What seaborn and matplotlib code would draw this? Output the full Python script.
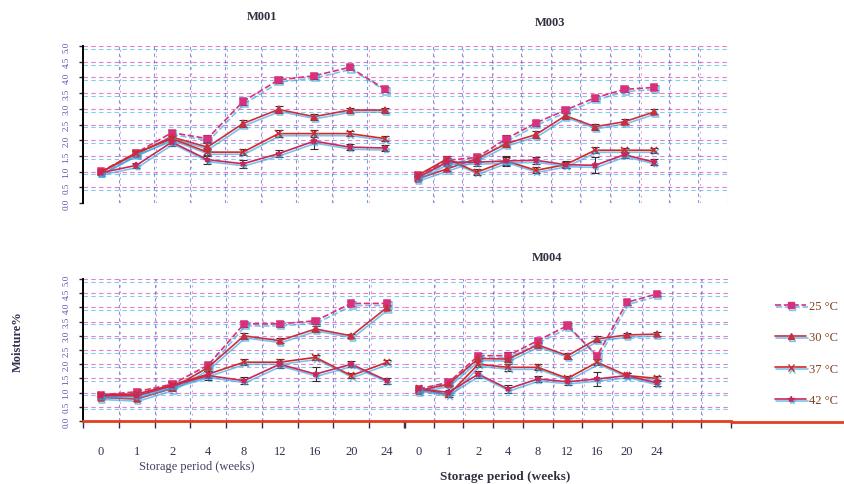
import numpy as np
import pandas as pd
import matplotlib
matplotlib.use("Agg")
import matplotlib.pyplot as plt
import matplotlib.patheffects as pe
from matplotlib.lines import Line2D
import seaborn as sns

sns.set_style("white")
plt.rcParams['font.family'] = ['Liberation Serif', 'DejaVu Serif']

weeks = ["0", "1", "2", "4", "8", "12", "16", "20", "24"]
temps = ["25 °C", "30 °C", "37 °C", "42 °C"]

# M001
m001_25 = [1.00, 1.60, 2.24, 2.05, 3.23, 3.92, 4.05, 4.32, 3.62]
m001_30 = [0.98, 1.57, 2.10, 1.78, 2.53, 2.98, 2.75, 2.96, 2.96]
m001_37 = [0.98, 1.60, 2.05, 1.62, 1.62, 2.21, 2.21, 2.21, 2.05]
m001_42 = [0.96, 1.20, 1.94, 1.38, 1.25, 1.57, 1.97, 1.78, 1.75]
# M003
m003_25 = [0.88, 1.36, 1.45, 2.05, 2.55, 2.96, 3.35, 3.62, 3.68]
m003_30 = [0.77, 1.09, 1.41, 1.89, 2.18, 2.78, 2.43, 2.59, 2.90]
m003_37 = [0.88, 1.41, 0.98, 1.34, 1.04, 1.22, 1.68, 1.68, 1.68]
m003_42 = [0.82, 1.30, 1.30, 1.34, 1.36, 1.22, 1.20, 1.54, 1.30]
# M002 (untitled, bottom left)
m002_25 = [0.92, 1.03, 1.30, 1.97, 3.42, 3.42, 3.53, 4.14, 4.14]
m002_30 = [0.83, 0.77, 1.15, 1.89, 3.00, 2.83, 3.24, 3.00, 4.00]
m002_37 = [0.92, 0.95, 1.27, 1.65, 2.07, 2.07, 2.24, 1.60, 2.07]
m002_42 = [0.89, 0.89, 1.24, 1.60, 1.42, 2.00, 1.65, 2.00, 1.42]
# M004
m004_25 = [1.13, 1.36, 2.30, 2.30, 2.83, 3.36, 2.30, 4.18, 4.47]
m004_30 = [1.07, 1.30, 2.20, 2.18, 2.68, 2.30, 2.89, 3.03, 3.06]
m004_37 = [1.15, 0.92, 2.00, 1.89, 1.89, 1.50, 2.07, 1.60, 1.50]
m004_42 = [1.13, 1.01, 1.65, 1.13, 1.48, 1.38, 1.48, 1.60, 1.34]

err_small = [0.05, 0.08, 0.10, 0.12, 0.10, 0.10, 0.10, 0.08, 0.08]
err_big = [0.05, 0.08, 0.12, 0.15, 0.12, 0.12, 0.25, 0.10, 0.10]

panels = [
    ("M001", [m001_25, m001_30, m001_37, m001_42]),
    ("M003", [m003_25, m003_30, m003_37, m003_42]),
    ("", [m002_25, m002_30, m002_37, m002_42]),
    ("M004", [m004_25, m004_30, m004_37, m004_42]),
]

colors = ["#d8307a", "#c83040", "#d42828", "#c82858"]
markers = ["s", "^", "x", "*"]
styles = ["--", "-", "-", "-"]
shadow = [pe.SimpleLineShadow(offset=(1.0, -1.5), shadow_color="#3aa0e0", alpha=0.65),
          pe.Normal()]

W, H = 844, 485
fig = plt.figure(figsize=(W / 100, H / 100), dpi=100)

def fx(x):
    return x / W

def fy(y):
    return 1 - y / H

rects = [
    (83, 47, 403, 204),
    (403, 47, 728, 204),
    (83, 280, 405, 422),
    (404, 280, 731, 422),
]
nslots = [9, 11, 9, 11]

axes = []
for i, ((x0, y0, x1, y1), (title, series)) in enumerate(zip(rects, panels)):
    ax = fig.add_axes([fx(x0), fy(y1), fx(x1 - x0), (y1 - y0) / H])
    axes.append(ax)
    n = nslots[i]
    ax.set_xlim(-0.5, n - 0.5)
    ax.set_ylim(0, 5.0)
    # colored dashed grid (scan look)
    for v in np.arange(0.5, 5.01, 0.5):
        ax.axhline(v, color="#e050b8", lw=0.8, ls=(0, (4, 3)), alpha=0.75, zorder=0)
        ax.axhline(v - 0.09, color="#40b0e0", lw=0.8, ls=(0, (4, 3)), alpha=0.65, zorder=0)
    for k in range(1, n + 1):
        ax.axvline(k - 0.5, color="#4070d0", lw=0.8, ls=(0, (3, 3)), alpha=0.7, zorder=0)
        ax.axvline(k - 0.5 + 0.04, color="#e050b8", lw=0.7, ls=(0, (2, 4)), alpha=0.6, zorder=0)
    pos = np.arange(len(weeks))
    for j, vals in enumerate(series):
        df = pd.DataFrame({"pos": pos, "val": vals})
        sns.lineplot(data=df, x="pos", y="val", ax=ax, color=colors[j], marker=markers[j],
                     linestyle=styles[j], lw=1.2, markersize=4.5, markeredgewidth=1.1,
                     markeredgecolor=colors[j], zorder=3 + j)
        ax.lines[-1].set_path_effects(shadow)
        errs = err_big if j == 3 else err_small
        ax.errorbar(pos, vals, yerr=errs, fmt="none", ecolor="#303030", elinewidth=0.8,
                    capsize=3, capthick=0.8, zorder=2)
    ax.set_xlabel("")
    ax.set_ylabel("")
    for s in ["top", "right"]:
        ax.spines[s].set_visible(False)
    if i in (0, 2):
        ax.spines["left"].set_color("black")
        ax.spines["left"].set_linewidth(1.4)
        ax.set_yticks(np.arange(0, 5.01, 0.5))
        ax.set_yticklabels([f"{v:.1f}" for v in np.arange(0, 5.01, 0.5)], rotation=90,
                           fontsize=6.5, color="#5a50b0", va="center")
        ax.tick_params(axis="y", length=3, width=1, pad=6, left=True)
    else:
        ax.spines["left"].set_visible(False)
        ax.set_yticks([])
    if i in (0, 1):
        ax.spines["bottom"].set_visible(False)
        ax.set_xticks([])
    else:
        ax.spines["bottom"].set_color("#e04020")
        ax.spines["bottom"].set_linewidth(2.0)
        ax.set_xticks(pos)
        ax.set_xticklabels(weeks, fontsize=9, color="#303050")
        ax.tick_params(axis="x", length=0, pad=17)
        ax.set_xticks(np.arange(-0.5, n, 1.0), minor=True)
        ax.tick_params(axis="x", which="minor", length=5, width=1, color="#303050", bottom=True)

# red baseline continuing to right edge
fig.add_artist(Line2D([fx(731), 1.0], [fy(423), fy(423)], color="#e04020", lw=2.0))

fig.text(fx(262), fy(17), "M001", fontsize=9, fontweight="bold", ha="center", va="center", color="#303040")
fig.text(fx(550), fy(23), "M003", fontsize=9, fontweight="bold", ha="center", va="center", color="#303040")
fig.text(fx(547), fy(258), "M004", fontsize=9, fontweight="bold", ha="center", va="center", color="#303040")
fig.text(fx(18), fy(342), "Moisture%", fontsize=9, fontweight="bold", rotation=90,
         ha="center", va="center", color="#303050")
fig.text(fx(197), fy(467), "Storage period (weeks)", fontsize=9, ha="center", va="center", color="#404060")
fig.text(fx(505), fy(477), "Storage period (weeks)", fontsize=9.5, fontweight="bold",
         ha="center", va="center", color="#303040")

handles = []
for j in range(4):
    h = Line2D([], [], color=colors[j], marker=markers[j], linestyle=styles[j], lw=1.2,
               markersize=4.5, markeredgecolor=colors[j])
    h.set_path_effects(shadow)
    handles.append(h)
fig.legend(handles, temps, loc="upper left", bbox_to_anchor=(fx(770), fy(296)),
           frameon=False, fontsize=9, labelspacing=1.55, handlelength=2.5,
           handletextpad=0.2, borderaxespad=0, labelcolor="#804020")

fig.savefig("out.png", dpi=100)
